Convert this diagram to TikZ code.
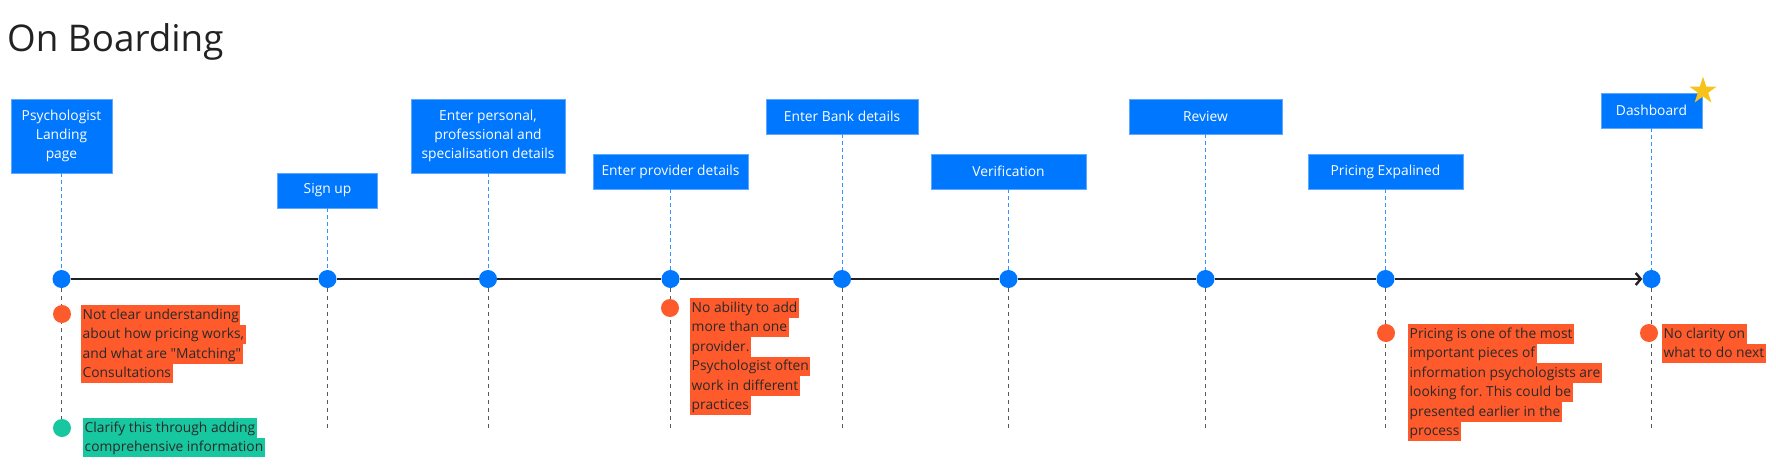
\documentclass[tikz,border=0pt]{standalone}
\usepackage{fontspec}
\setmainfont{Open Sans}
\usepackage{tikz}
\usetikzlibrary{shapes.geometric, arrows.meta}
\usetikzlibrary{positioning}

\definecolor{stepblue}{HTML}{0077FF}
\definecolor{stepedge}{HTML}{5EA8FF}
\definecolor{noteorange}{HTML}{FF5A2B}
\definecolor{notegreen}{HTML}{17C7A0}
\definecolor{notetext}{HTML}{2A2A2A}
\definecolor{stargold}{HTML}{F7C31A}
\definecolor{lineblack}{HTML}{222222}

\frenchspacing
\setlength{\fboxsep}{0pt}
% one highlighted line of a note
\providecommand{\noteline}[2][noteorange]{\colorbox{#1}{\rule[-5.5pt]{0pt}{19.5pt}\hspace{1.5pt}#2\hspace{1.5pt}}}

\begin{document}
\begin{tikzpicture}[x=1pt, y=-1pt,
  stepbox/.style={fill=stepblue, draw=stepedge, line width=0.8pt, text=white,
    font=\fontsize{13.8}{19.3}\selectfont, align=center, inner sep=0pt},
  stepdot/.style={circle, fill=stepblue, minimum size=18pt, inner sep=0pt},
  notedot/.style={circle, fill=noteorange, minimum size=18pt, inner sep=0pt},
  note/.style={anchor=north west, inner sep=0pt, align=left, text=notetext,
    font=\fontsize{13.8}{19.5}\selectfont},
  stepdash/.style={draw=stepblue!80, line width=1pt, dash pattern=on 4pt off 3pt},
  dropdash/.style={draw=black!65, line width=1pt, dash pattern=on 4pt off 4pt},
  timeline/.style={draw=lineblack, line width=2.4pt}]

\useasboundingbox (0,0) rectangle (1776,468);

\node[anchor=base west, inner sep=0pt, font=\fontsize{36.8}{44}\selectfont, text=lineblack] (title) at (7,52) {On Boarding};

% Steps (boxes, dots on the time line, drops below)
\foreach \x/\y/\w/\h/\lbl [count=\i] in {
  61.5/136/101/74/{Psychologist\\Landing\\page},
  327.5/190.5/100/35/{Sign up},
  488/136/154/74/{Enter personal,\\professional and\\specialisation details},
  670.5/171.5/155/35/{Enter provider details},
  842/116.5/152/35/{Enter Bank details},
  1008.5/171.5/155/35/{Verification},
  1205.5/116.5/153/35/{Review},
  1385.5/171.5/155/35/{Pricing Expalined},
  1651.5/110.5/101/35/{Dashboard}}
{
  \node[stepbox, minimum width=\w pt, minimum height=\h pt] (s\i) at (\x,\y) {\lbl};
  \node[stepdot] (d\i) at (\x,279) {};
  \coordinate (e\i) at (\x,429);
  \draw[stepdash] (s\i) -- (d\i);
  \draw[dropdash] (d\i) -- (e\i);
}

% Time line
\foreach \a/\b in {1/2, 2/3, 3/4, 4/5, 5/6, 6/7, 7/8}
  \draw[timeline] (d\a) -- (d\b);
\draw[timeline, -{Straight Barb[length=5pt, width=12pt]}] (d8) -- (d9);

% Star on the last step
\node[star, star points=5, star point ratio=2.6, fill=stargold, minimum size=28.5pt, inner sep=0pt] (star) at (1703,91) {};

% Pain points
\node[notedot] (n1) at (62,314) {};
\node[note] (note1) at (81,305) {\noteline{Not clear understanding}\\\noteline{about how pricing works,}\\\noteline{and what are \textquotedbl Matching\textquotedbl}\\\noteline{Consultations}};

\node[notedot] (n2) at (670,308) {};
\node[note] (note2) at (690,298) {\noteline{No ability to add}\\\noteline{more than one}\\\noteline{provider.}\\\noteline{Psychologist often}\\\noteline{work in different}\\\noteline{practices}};

\node[notedot] (n3) at (1386,333) {};
\node[note] (note3) at (1408,324) {\noteline{Pricing is one of the most}\\\noteline{important pieces of}\\\noteline{information psychologists are}\\\noteline{looking for. This could be}\\\noteline{presented earlier in the}\\\noteline{process}};

\node[notedot] (n4) at (1649,333) {};
\node[note] (note4) at (1662,324) {\noteline{No clarity on}\\\noteline{what to do next}};

% Idea
\node[notedot, fill=notegreen] (g1) at (62,428) {};
\node[note] (idea1) at (83,418) {\noteline[notegreen]{Clarify this through adding}\\\noteline[notegreen]{comprehensive information}};

\end{tikzpicture}
\end{document}
